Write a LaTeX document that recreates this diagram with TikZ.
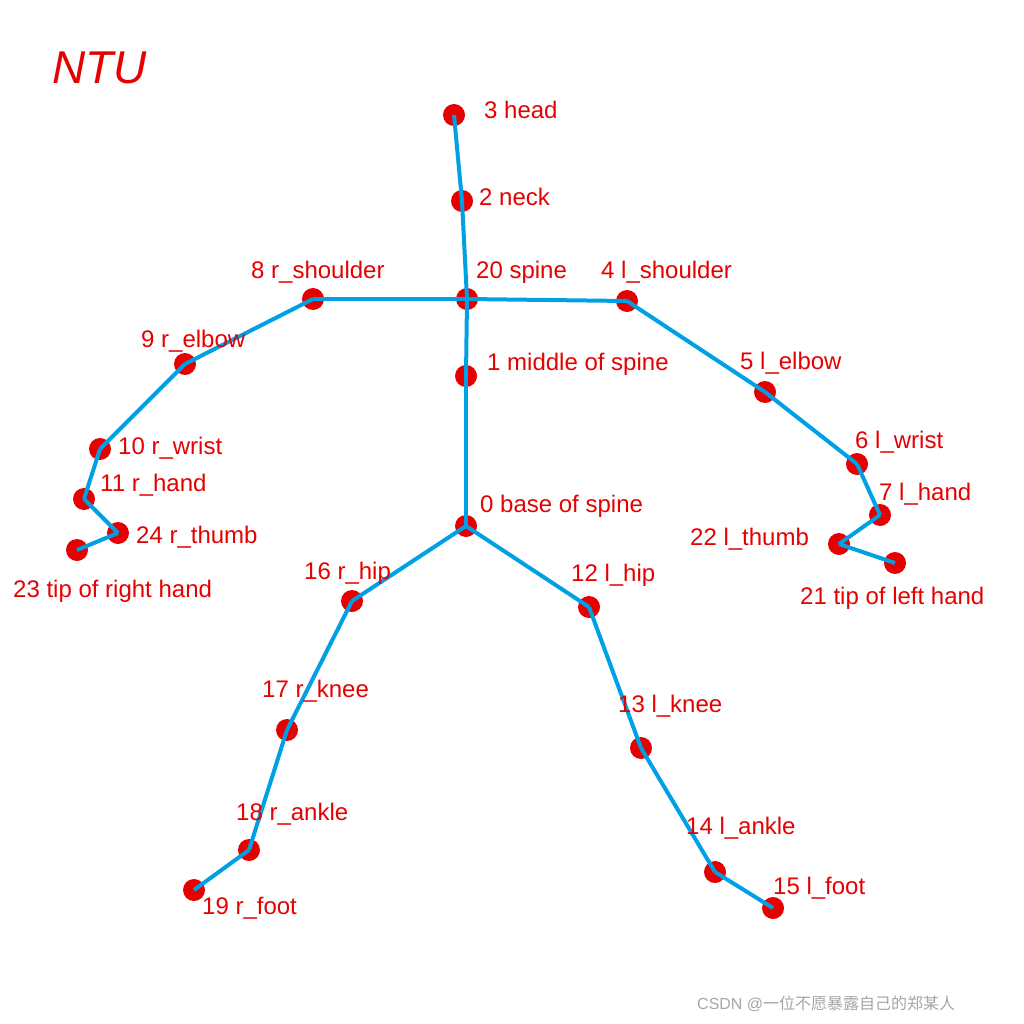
\documentclass[tikz,border=0pt]{standalone}
\usepackage{fontspec}
\setmainfont{Liberation Sans}
\newfontfamily\cjk{Noto Sans CJK SC}
\definecolor{jr}{RGB}{230,0,0}
\definecolor{bl}{RGB}{0,160,228}
\begin{document}
\begin{tikzpicture}[x=1pt,y=-1pt,
  j/.style={circle,fill=jr,inner sep=0pt,minimum size=22pt},
  b/.style={draw=bl,line width=4pt},
  l/.style={anchor=west,text=jr,font=\fontsize{24}{28}\selectfont,inner sep=0pt}]
\useasboundingbox[fill=white] (0,0) rectangle (1024,1024);
\foreach \n/\x/\y in {3/454/115,2/462/201,20/467/299,1/466/376,0/466/526,8/313/299,9/185/364,10/100/449,11/84/499,24/118/533,23/77/550,4/627/301,5/765/392,6/857/464,7/880/515,22/839/544,21/895/563,16/352/601,17/287/730,18/249/850,19/194/890,12/589/607,13/641/748,14/715/872,15/773/908}
  \node[j] (n\n) at (\x,\y) {};
\foreach \a/\c in {3/2,2/20,20/1,1/0,20/8,8/9,9/10,10/11,11/24,24/23,20/4,4/5,5/6,6/7,7/22,22/21,0/16,16/17,17/18,18/19,0/12,12/13,13/14,14/15}
  \draw[b] (n\a.center) -- (n\c.center);
\foreach \t/\x/\y [count=\i] in {3 head/484/110,2 neck/479/197,20 spine/476/272,8 r\_shoulder/251/272,4 l\_shoulder/601/272,1 middle of spine/487/364,9 r\_elbow/141/341,5 l\_elbow/740/363,10 r\_wrist/118/448,6 l\_wrist/855/442,11 r\_hand/100/485,7 l\_hand/879/494,24 r\_thumb/136/537,22 l\_thumb/690/539,23 tip of right hand/13/591,21 tip of left hand/800/598,0 base of spine/480/506,16 r\_hip/304/573,12 l\_hip/571/575,17 r\_knee/262/691,13 l\_knee/618/706,18 r\_ankle/236/814,14 l\_ankle/686/828,19 r\_foot/202/908,15 l\_foot/773/888}
  \node[l] (t\i) at (\x,\y) {\t};
\node[anchor=west,text=jr,font=\fontsize{46}{52}\selectfont\itshape,inner sep=0pt] (ntu) at (52,68) {NTU};
\node[anchor=west,text=gray!70,font=\fontsize{16}{18}\selectfont,inner sep=0pt] (wm) at (697,1004) {CSDN @{\cjk 一位不愿暴露自己的郑某人}};
\end{tikzpicture}
\end{document}
